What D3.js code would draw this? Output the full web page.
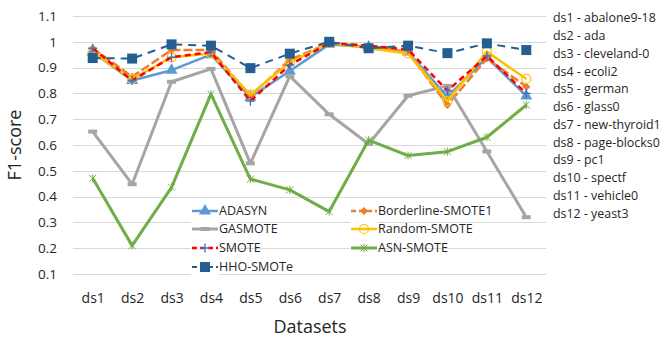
<!DOCTYPE html>
<html>
<head>
<meta charset="utf-8">
<script src="https://cdn.jsdelivr.net/npm/d3@7"></script>
<style>
  body { margin: 0; background: #fff; }
  text { font-family: "Open Sans", "Noto Sans", sans-serif; fill: #262626; }
</style>
</head>
<body>
<div id="chart"></div>
<script>
'use strict';

// datasets on the x axis
var datasets = ['ds1', 'ds2', 'ds3', 'ds4', 'ds5', 'ds6', 'ds7', 'ds8', 'ds9', 'ds10', 'ds11', 'ds12'];
var datasetNames = ['abalone9-18', 'ada', 'cleveland-0', 'ecoli2', 'german', 'glass0',
    'new-thyroid1', 'page-blocks0', 'pc1', 'spectf', 'vehicle0', 'yeast3'];
var yTicks = [0.1, 0.2, 0.3, 0.4, 0.5, 0.6, 0.7, 0.8, 0.9, 1, 1.1];

// F1-score per method
var adasyn     = [0.960, 0.850, 0.890, 0.950, 0.785, 0.887, 0.990, 0.980, 0.960, 0.787, 0.940, 0.790];
var borderline = [0.975, 0.865, 0.968, 0.968, 0.790, 0.930, 0.995, 0.985, 0.960, 0.755, 0.935, 0.826];
var gasmote    = [0.652, 0.448, 0.845, 0.895, 0.529, 0.867, 0.719, 0.604, 0.791, 0.829, 0.575, 0.320];
var randomSm   = [0.960, 0.855, 0.940, 0.955, 0.795, 0.920, 0.995, 0.975, 0.955, 0.770, 0.962, 0.856];
var smote      = [0.975, 0.850, 0.940, 0.960, 0.770, 0.910, 0.995, 0.985, 0.970, 0.810, 0.945, 0.800];
var asnSmote   = [0.471, 0.210, 0.436, 0.797, 0.468, 0.426, 0.342, 0.619, 0.559, 0.574, 0.630, 0.755];
var hhoSmote   = [0.937, 0.935, 0.990, 0.985, 0.898, 0.954, 1.000, 0.975, 0.985, 0.956, 0.994, 0.968];

var width = 665, height = 339;

var series = [
    {name: 'ADASYN', values: adasyn, color: '#5B9BD5', dash: null, w: 2.5, marker: 'triangle'},
    {name: 'Borderline-SMOTE1', values: borderline, color: '#ED7D31', dash: '9,3', w: 2.5, marker: 'diamond'},
    {name: 'GASMOTE', values: gasmote, color: '#A5A5A5', dash: null, w: 3, marker: 'dash'},
    {name: 'Random-SMOTE', values: randomSm, color: '#FFC000', dash: null, w: 2.5, marker: 'circle'},
    {name: 'SMOTE', values: smote, color: '#FF0000', dash: '6,4', w: 2.5, marker: 'plus'},
    {name: 'ASN-SMOTE', values: asnSmote, color: '#70AD47', dash: null, w: 3, marker: 'star'},
    {name: 'HHO-SMOTe', values: hhoSmote, color: '#255E91', dash: '8,6', w: 2, marker: 'square'}
];

var x = d3.scalePoint()
    .domain(datasets)
    .range([73, 546])
    .padding(0.5);

var y = d3.scaleLinear()
    .domain([0.1, 1.1])
    .range([274, 16]);

var svg = d3.select('#chart').append('svg')
    .attr('width', width)
    .attr('height', height);

// gridlines
svg.append('g')
    .selectAll('line')
    .data(yTicks)
    .enter().append('line')
    .attr('x1', 73).attr('x2', 546)
    .attr('y1', function (d) { return Math.round(y(d)) + 0.5; })
    .attr('y2', function (d) { return Math.round(y(d)) + 0.5; })
    .attr('stroke', '#D9D9D9')
    .attr('stroke-width', 1);

// y axis labels
var yAxis = d3.axisLeft(y).tickValues(yTicks).tickSize(0).tickPadding(0)
    .tickFormat(function (d) { return d3.format('')(+d.toFixed(1)); });
svg.append('g')
    .attr('transform', 'translate(57,0)')
    .call(yAxis)
    .call(function (g) { g.select('.domain').remove(); })
    .selectAll('text')
    .style('font-size', '13.5px')
    .style('font-family', '"Open Sans", sans-serif')
    .attr('fill', '#404040');

// x axis labels
var xAxis = d3.axisBottom(x).tickSize(0).tickPadding(0);
svg.append('g')
    .attr('transform', 'translate(0,293)')
    .call(xAxis)
    .call(function (g) { g.select('.domain').remove(); })
    .selectAll('text')
    .style('font-size', '14px')
    .style('font-family', '"Open Sans", sans-serif')
    .attr('fill', '#404040');

svg.append('text')
    .attr('x', 310).attr('y', 333)
    .attr('text-anchor', 'middle')
    .style('font-size', '18px')
    .text('Datasets');

svg.append('text')
    .attr('transform', 'translate(21,145) rotate(-90)')
    .attr('text-anchor', 'middle')
    .style('font-size', '18px')
    .text('F1-score');

function drawMarker(g, s) {
    var m = s.marker;
    if (m === 'triangle') {
        g.append('path').attr('d', d3.symbol(d3.symbolTriangle, 63)())
            .attr('fill', s.color);
    } else if (m === 'diamond') {
        g.append('path').attr('d', 'M0,-4L4,0L0,4L-4,0Z').attr('fill', s.color);
    } else if (m === 'dash') {
        g.append('rect').attr('x', -4.5).attr('y', -2).attr('width', 9).attr('height', 4)
            .attr('fill', s.color);
    } else if (m === 'circle') {
        g.append('circle').attr('r', 4.5).attr('fill', 'none')
            .attr('stroke', s.color).attr('stroke-width', 1.2);
    } else if (m === 'plus') {
        g.append('path').attr('d', 'M-4.5,0H4.5M0,-4.5V4.5')
            .attr('stroke', '#4472C4').attr('stroke-width', 1.3);
    } else if (m === 'star') {
        g.append('path').attr('d', 'M-3.5,-3.5L3.5,3.5M-3.5,3.5L3.5,-3.5M0,-4V4')
            .attr('stroke', s.color).attr('stroke-width', 1);
    } else if (m === 'square') {
        g.append('rect').attr('x', -5).attr('y', -5).attr('width', 10).attr('height', 10)
            .attr('fill', s.color);
    }
}

var line = d3.line()
    .x(function (d, i) { return x(datasets[i]); })
    .y(function (d) { return y(d); });

series.forEach(function (s) {
    var g = svg.append('g').attr('class', 'series');
    g.append('path')
        .datum(s.values)
        .attr('d', line)
        .attr('fill', 'none')
        .attr('stroke', s.color)
        .attr('stroke-width', s.w)
        .attr('stroke-dasharray', s.dash)
        .attr('stroke-linejoin', 'round');
    g.selectAll('.mk')
        .data(s.values)
        .enter().append('g')
        .attr('class', 'mk')
        .attr('transform', function (d, i) {
            return 'translate(' + x(datasets[i]) + ',' + y(d) + ')';
        })
        .each(function () { drawMarker(d3.select(this), s); });
});

// inner legend, two columns
var legendPos = [
    [192, 211], [351, 211], [192, 229], [351, 229], [192, 248], [351, 248], [192, 267]
];
series.forEach(function (s, i) {
    var lg = svg.append('g')
        .attr('transform', 'translate(' + legendPos[i][0] + ',' + legendPos[i][1] + ')');
    lg.append('rect').attr('x', -1).attr('y', -8).attr('width', 28).attr('height', 16)
        .attr('fill', '#fff');
    lg.append('line').attr('x1', 0).attr('x2', 26).attr('y1', 0).attr('y2', 0)
        .attr('stroke', s.color).attr('stroke-width', s.w)
        .attr('stroke-dasharray', s.dash ? '5,3' : null);
    drawMarker(lg.append('g').attr('transform', 'translate(13,0)'), s);
    lg.append('text')
        .attr('x', 27).attr('y', 0).attr('dy', '0.35em')
        .style('font-size', '12.5px')
        .text(s.name);
});

// dataset key on the right
svg.append('g')
    .selectAll('text')
    .data(datasets)
    .enter().append('text')
    .attr('x', 553)
    .attr('y', function (d, i) { return 18 + i * 17.75; })
    .attr('dy', '0.35em')
    .style('font-size', '12.4px')
    .text(function (d, i) { return d + ' - ' + datasetNames[i]; });
</script>
</body>
</html>
